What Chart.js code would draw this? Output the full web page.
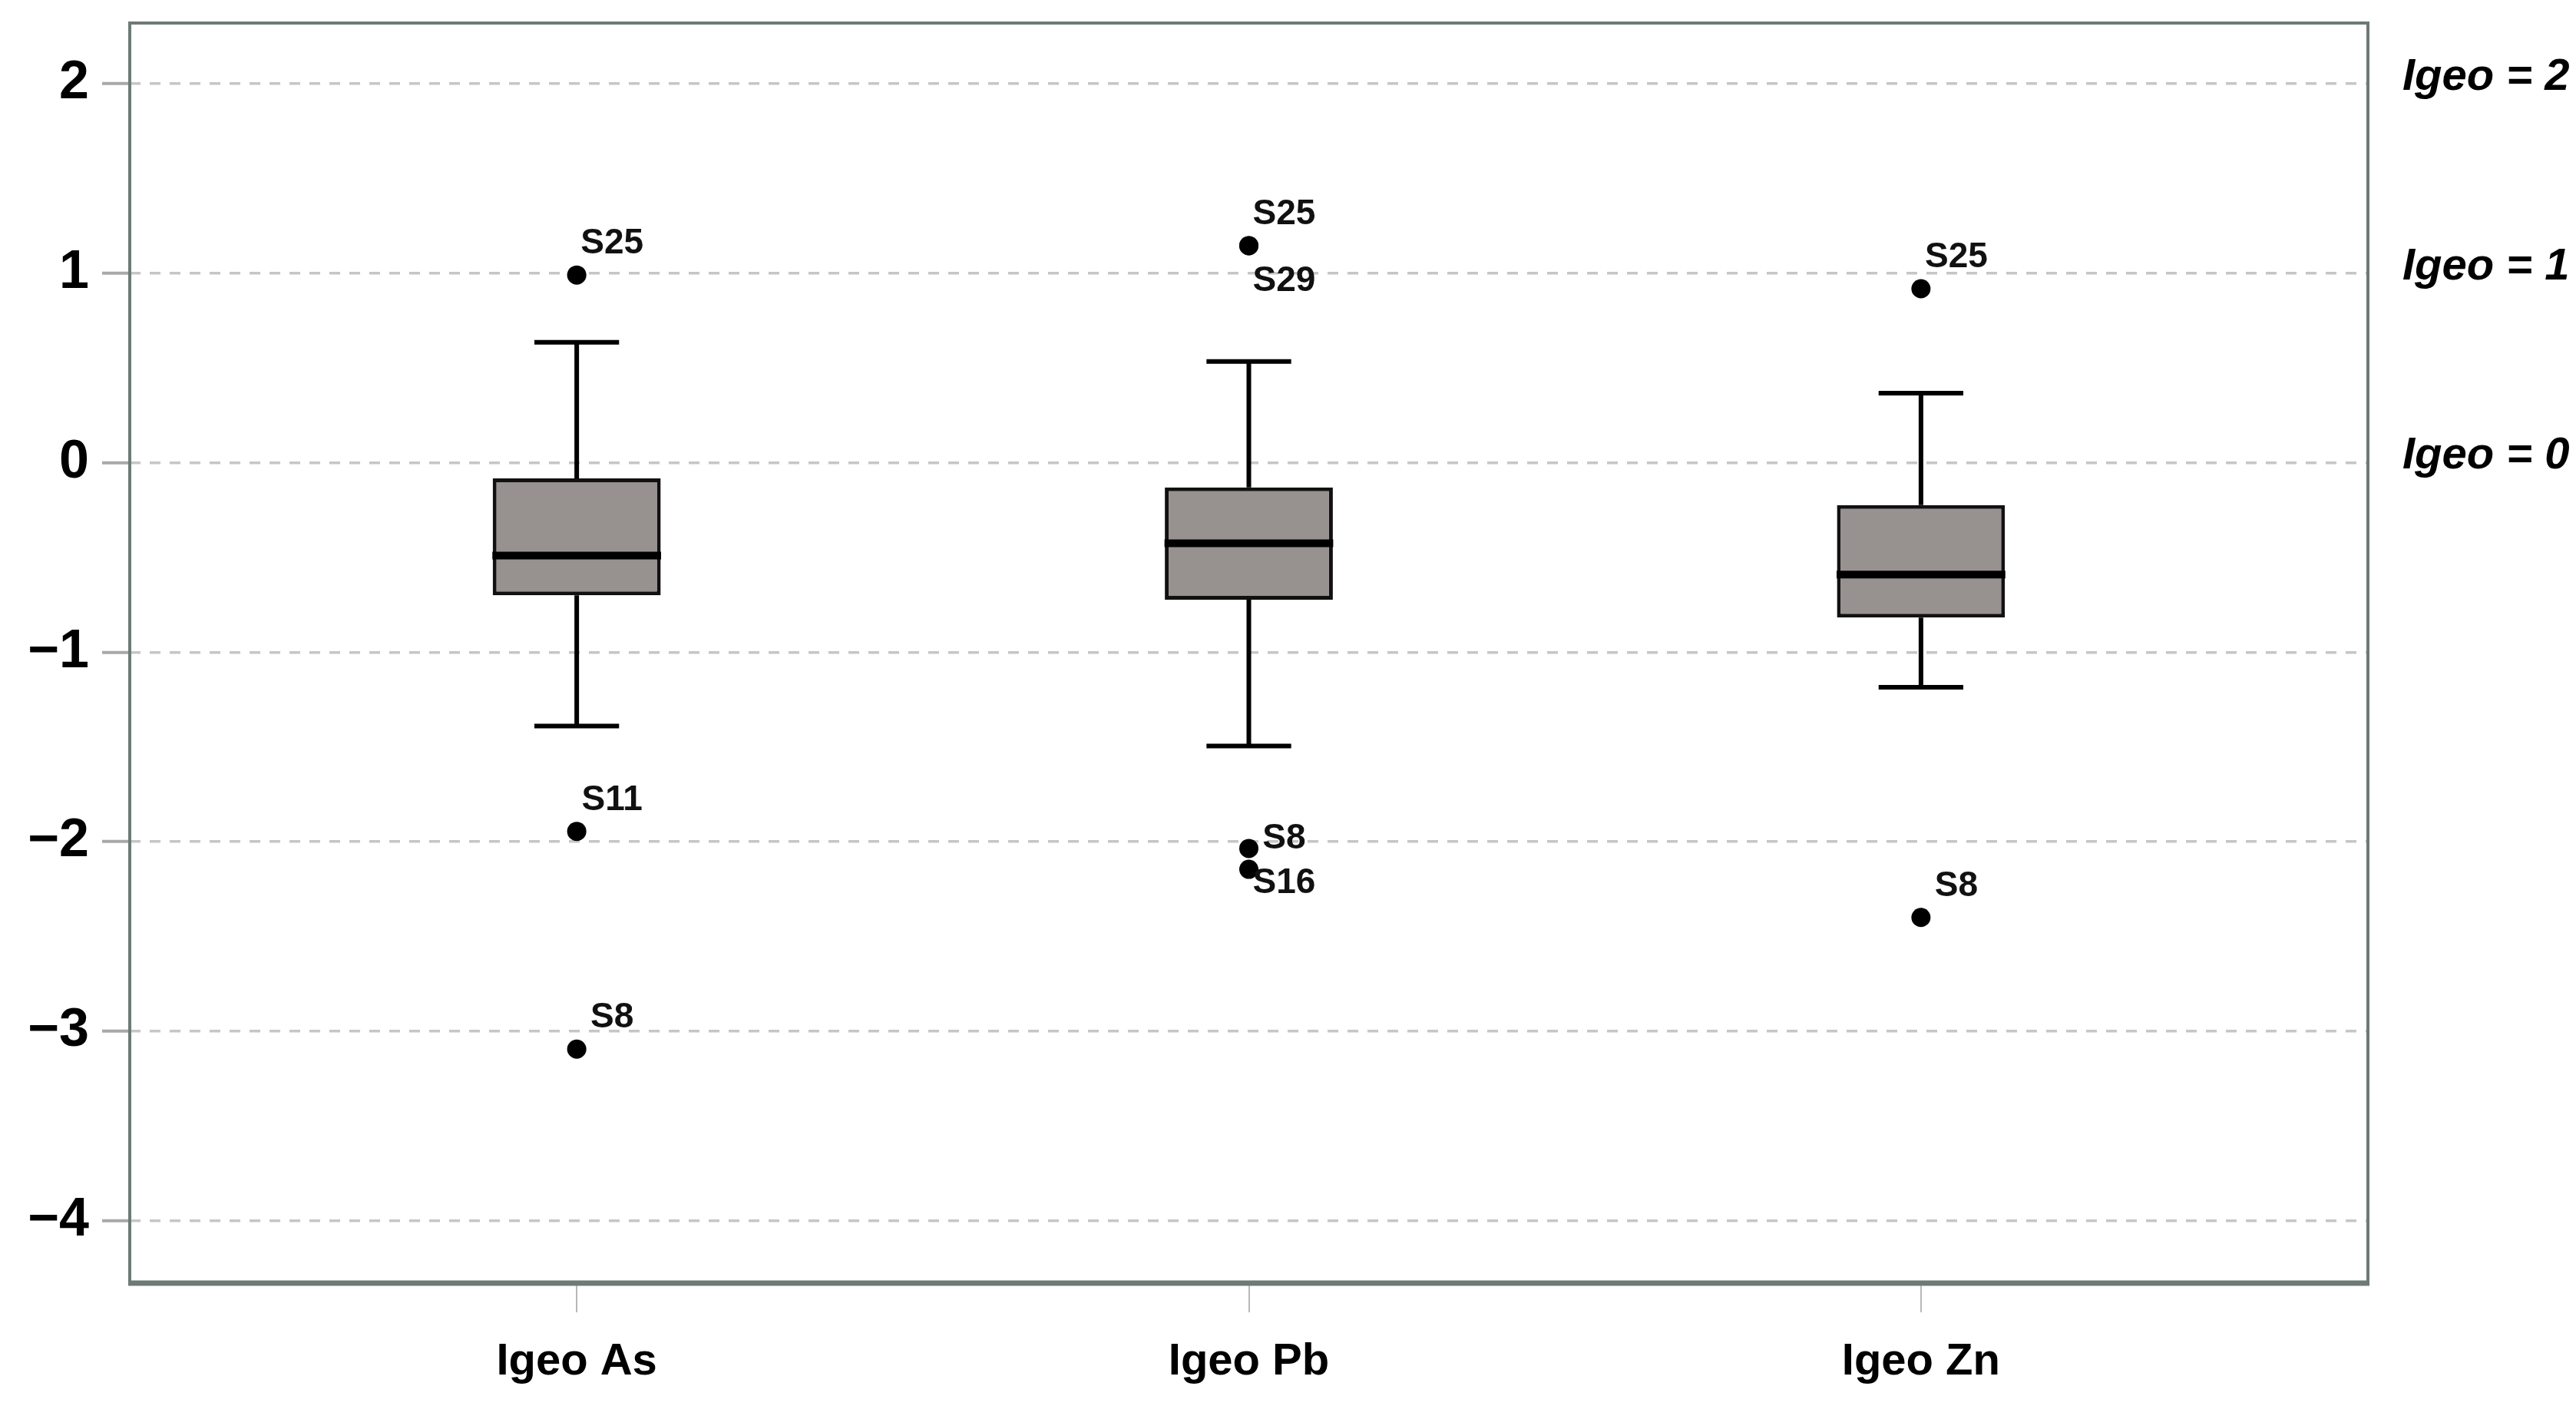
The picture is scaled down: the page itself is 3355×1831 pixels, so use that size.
<!DOCTYPE html>
<html>
<head>
<meta charset="utf-8">
<script src="https://cdn.jsdelivr.net/npm/chart.js@4.4.1/dist/chart.umd.min.js"></script>
<style>
  html, body { margin: 0; padding: 0; background: #ffffff; }
  canvas { display: block; }
</style>
</head>
<body>
<canvas id="igeo-chart" width="3355" height="1831"></canvas>
<script>
"use strict";

// box plot summary per element
const categories = ["Igeo As", "Igeo Pb", "Igeo Zn"];
const whiskerHigh = [0.635, 0.534, 0.367];
const upperQuartile = [-0.083, -0.131, -0.224];
const medians = [-0.49, -0.426, -0.591];
const lowerQuartile = [-0.70, -0.723, -0.818];
const whiskerLow = [-1.39, -1.495, -1.185];

// outliers: category index, value, sample name
const outlierGroup = [0, 0, 0, 1, 1, 1, 1, 2, 2];
const outlierValue = [0.99, -1.946, -3.095, 1.145, 1.145, -2.036, -2.146, 0.918, -2.4];
const outlierName = ["S25", "S11", "S8", "S25", "S29", "S8", "S16", "S25", "S8"];

const yTickValues = [-4, -3, -2, -1, 0, 1, 2];
const igeoLevels = [2, 1, 0];

(function () {
  const FONT = "'Liberation Sans', Arial, sans-serif";
  const BOX_HALF = 0.1255; // in category units
  const CAP_HALF = 0.063;

  // label baseline offset (px) relative to the point, default is above it
  const labelShift = {
    "1:S29": 59,
    "1:S8": 0,
    "1:S16": 31,
  };

  const xPos = categories.map((c, i) => i + 1);

  const whiskerData = [];
  const medianData = [];
  xPos.forEach((x, i) => {
    whiskerData.push(
      { x: x, y: upperQuartile[i] }, { x: x, y: whiskerHigh[i] }, { x: x, y: null },
      { x: x, y: lowerQuartile[i] }, { x: x, y: whiskerLow[i] }, { x: x, y: null },
      { x: x - CAP_HALF, y: whiskerHigh[i] }, { x: x + CAP_HALF, y: whiskerHigh[i] }, { x: x, y: null },
      { x: x - CAP_HALF, y: whiskerLow[i] }, { x: x + CAP_HALF, y: whiskerLow[i] }, { x: x, y: null }
    );
    medianData.push(
      { x: x - BOX_HALF, y: medians[i] }, { x: x + BOX_HALF, y: medians[i] }, { x: x, y: null }
    );
  });

  const outlierData = outlierValue.map((v, i) => ({
    x: xPos[outlierGroup[i]],
    y: v,
    name: outlierName[i],
    group: outlierGroup[i],
  }));

  const frameAndLabels = {
    id: "frameAndLabels",
    afterDatasetsDraw(chart) {
      const ctx = chart.ctx;
      const area = chart.chartArea;
      const yScale = chart.scales.y;

      // outlier names
      const meta = chart.getDatasetMeta(3);
      ctx.save();
      ctx.fillStyle = "#111111";
      ctx.font = "bold 46px " + FONT;
      ctx.textAlign = "center";
      ctx.textBaseline = "alphabetic";
      meta.data.forEach((pt, i) => {
        const d = outlierData[i];
        const key = d.group + ":" + d.name;
        const dy = key in labelShift ? labelShift[key] : -28;
        ctx.fillText(d.name, pt.x + 46, pt.y + dy);
      });

      // plot frame
      ctx.strokeStyle = "#6d7a76";
      ctx.lineWidth = 4;
      ctx.strokeRect(area.left, area.top, area.right - area.left, area.bottom - area.top);
      ctx.lineWidth = 7;
      ctx.beginPath();
      ctx.moveTo(area.left - 2, area.bottom);
      ctx.lineTo(area.right + 2, area.bottom);
      ctx.stroke();

      // Igeo class labels on the right
      ctx.fillStyle = "#000000";
      ctx.font = "italic bold 58px " + FONT;
      ctx.textAlign = "left";
      ctx.textBaseline = "middle";
      igeoLevels.forEach((v) => {
        ctx.fillText("Igeo = " + v, area.right + 45, yScale.getPixelForValue(v) - 8);
      });
      ctx.restore();
    },
  };

  const ctx = document.getElementById("igeo-chart").getContext("2d");

  new Chart(ctx, {
    type: "bar",
    data: {
      datasets: [
        {
          type: "line",
          label: "median",
          data: medianData,
          borderColor: "#000000",
          borderWidth: 10,
          borderCapStyle: "butt",
          pointRadius: 0,
          spanGaps: false,
          order: 0,
        },
        {
          type: "line",
          label: "whiskers",
          data: whiskerData,
          borderColor: "#000000",
          borderWidth: 6,
          borderCapStyle: "butt",
          pointRadius: 0,
          spanGaps: false,
          order: 2,
        },
        {
          type: "bar",
          label: "IQR",
          data: xPos.map((x, i) => ({ x: x, y: [lowerQuartile[i], upperQuartile[i]] })),
          backgroundColor: "#97918f",
          borderColor: "#111111",
          borderWidth: 5,
          borderSkipped: false,
          categoryPercentage: 1,
          barPercentage: 0.25,
          order: 3,
        },
        {
          type: "line",
          label: "outliers",
          data: outlierData,
          showLine: false,
          pointRadius: 12.5,
          pointBackgroundColor: "#000000",
          pointBorderWidth: 0,
          order: 0,
        },
      ],
    },
    options: {
      responsive: false,
      devicePixelRatio: 1,
      animation: false,
      layout: {
        padding: { top: 30, right: 271, left: 0, bottom: 0 },
      },
      plugins: {
        legend: { display: false },
        tooltip: { enabled: false },
      },
      scales: {
        x: {
          type: "linear",
          min: 0.335,
          max: 3.665,
          offset: false,
          afterBuildTicks: (scale) => {
            scale.ticks = xPos.map((v) => ({ value: v }));
          },
          afterFit: (scale) => {
            scale.height = 160;
            scale.paddingLeft = 0;
            scale.paddingRight = 0;
          },
          border: { display: false },
          grid: {
            offset: false,
            drawOnChartArea: false,
            drawTicks: true,
            tickLength: 38,
            color: "#b8b8b8",
            lineWidth: 2,
          },
          ticks: {
            autoSkip: false,
            maxRotation: 0,
            padding: 30,
            color: "#000000",
            font: { family: FONT, size: 58, weight: "bold" },
            callback: (value) => categories[Math.round(value) - 1] || "",
          },
        },
        y: {
          type: "linear",
          min: -4.33,
          max: 2.32,
          afterBuildTicks: (scale) => {
            scale.ticks = yTickValues.map((v) => ({ value: v }));
          },
          afterFit: (scale) => {
            scale.width = 169;
            scale.paddingTop = 0;
            scale.paddingBottom = 0;
          },
          border: { display: false, dash: [14, 12] },
          grid: {
            color: "#c6c6c6",
            lineWidth: 3.5,
            drawTicks: true,
            tickLength: 36,
            tickColor: "#a8a8a8",
            tickWidth: 4,
            tickBorderDash: [],
          },
          ticks: {
            padding: 17,
            color: "#000000",
            font: { family: FONT, size: 70, weight: "bold" },
            callback: (value) => (value < 0 ? "\u2212" + Math.abs(value) : String(value)),
          },
        },
      },
    },
    plugins: [frameAndLabels],
  });
})();
</script>
</body>
</html>
